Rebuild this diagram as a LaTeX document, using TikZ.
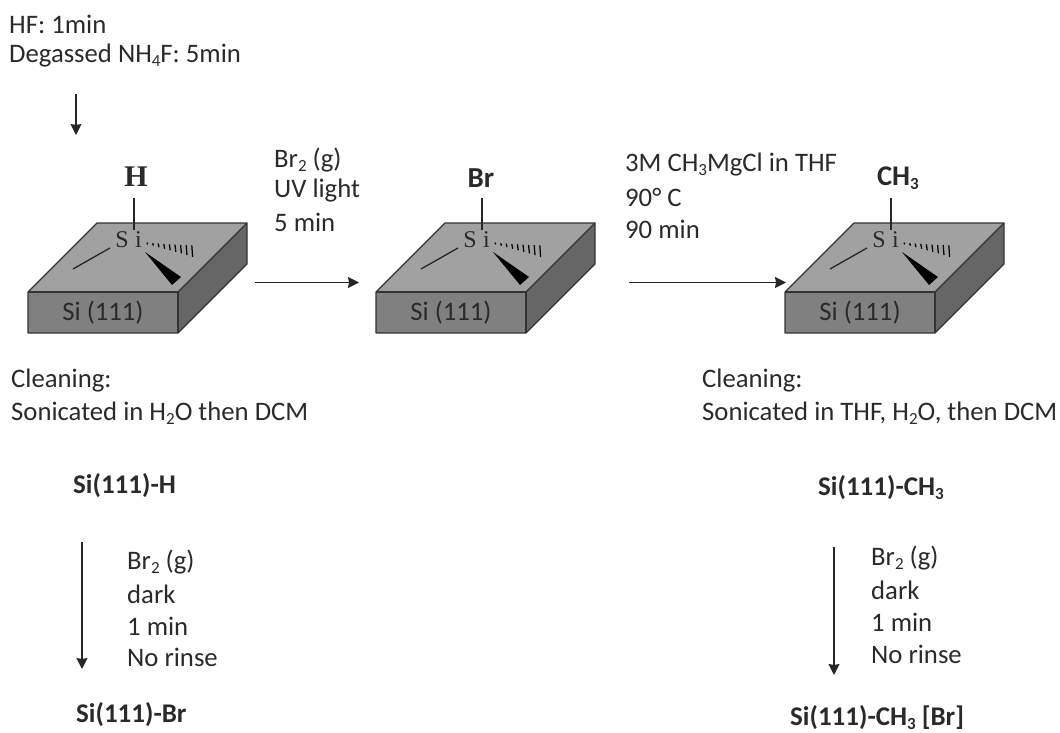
\documentclass[tikz,border=0pt]{standalone}
\usepackage{fontspec}
\setmainfont{Carlito}
\newfontfamily\lmr{Liberation Serif}
\usetikzlibrary{arrows.meta}
\newcommand{\subs}[1]{\raisebox{-0.28ex}{\fontsize{17}{20}\selectfont #1}}
\definecolor{inkc}{HTML}{2A2A2A}
\tikzset{
  x=1pt,y=-1pt,
  lbl/.style={anchor=west,inner sep=0pt,text=inkc,font=\fontsize{26.7}{30}\selectfont,align=left},
  ttl/.style={anchor=west,inner sep=0pt,text=inkc,font=\fontsize{27}{30}\selectfont\bfseries},
  arr/.style={-{Stealth[length=11pt,width=11pt,inset=1pt]},line width=1.4pt,black!85},
  edgeline/.style={draw=black!80,line width=1.2pt,line join=round},
  bond/.style={black!85,line width=1.3pt},
  sifont/.style={inner sep=0pt,text=inkc,font=\lmr\fontsize{24}{26}\selectfont},
}
\newcommand{\siblock}[2]{%
 \begin{scope}[shift={(#1,0)}]
  \fill[fill=black!37] (0,292) -- (69,223) -- (219,223) -- (150,292) -- cycle;
  \fill[fill=black!50] (0,292) rectangle (150,333);
  \fill[fill=black!60] (150,292) -- (219,223) -- (219,264) -- (150,333) -- cycle;
  \draw[edgeline] (0,292) -- (69,223) -- (219,223) -- (219,264) -- (150,333) -- (0,333) -- cycle;
  \draw[edgeline] (0,292) -- (150,292) -- (150,333);
  \draw[edgeline] (150,292) -- (219,223);
  \node[sifont] (#2S) at (94,240) {S};
  \node[sifont] (#2I) at (110.5,240) {i};
  \node[inner sep=0pt,text=inkc,font=\fontsize{26.7}{30}\selectfont] (#2sub) at (75,313) {Si (111)};
  \coordinate (#2top) at (106,198);
  \draw[bond] (#2top) -- ++(0,32);
  \draw[bond] (82,248) -- (45,269);
  \fill[black] (117,252) -- (153,277) -- (144,285) -- cycle;
  \foreach \t/\h in {0/0.8,1/1.2,2/1.8,3/2.4,4/3,5/3.6,6/4.2,7/5,8/5.8}{
    \draw[black,line width=1.25pt] ({119+\t*5.6},{243.5+\t*0.95-\h}) -- ({119.8+\t*5.6},{243.5+\t*0.95+\h});
  }
 \end{scope}}
\begin{document}
\begin{tikzpicture}
\useasboundingbox (0,0) rectangle (1060,733);
\node[lbl] (t1) at (9,24) {HF: 1min};
\node[lbl] (t2) at (9,56) {Degassed NH\subs{4}F: 5min};
\coordinate (a0s) at (76,94);
\coordinate (a0e) at (76,135);
\draw[arr] (a0s) -- (a0e);

\siblock{28}{A}
\siblock{376}{B}
\siblock{785}{C}

\node[font=\lmr\bfseries\fontsize{30}{32}\selectfont,inner sep=0pt,text=inkc] (hh) at (136,177) {H};
\node[font=\fontsize{29}{30}\selectfont\bfseries,inner sep=0pt,text=inkc] (br) at (481,178) {Br};
\node[font=\fontsize{28.5}{30}\selectfont\bfseries,inner sep=0pt,text=inkc] (ch) at (898,178) {CH\subs{3}};

\node[lbl] (r1a) at (274,160) {Br\subs{2} (g)};
\node[lbl] (r1b) at (274,191) {UV light};
\node[lbl] (r1c) at (274,222) {5 min};
\coordinate (a1s) at (255,282.5);
\coordinate (a1e) at (359,282.5);
\draw[arr] (a1s) -- (a1e);

\node[lbl] (r2a) at (625,165) {3M CH\subs{3}MgCl in THF};
\node[lbl] (r2b) at (625,197) {90° C};
\node[lbl] (r2c) at (625,229) {90 min};
\coordinate (a2s) at (629,282.5);
\coordinate (a2e) at (786,282.5);
\draw[arr] (a2s) -- (a2e);

\node[lbl] (c1a) at (11,381) {Cleaning:};
\node[lbl] (c1b) at (11,413) {Sonicated in H\subs{2}O then DCM};
\node[lbl] (c2a) at (702,381) {Cleaning:};
\node[lbl] (c2b) at (702,413) {Sonicated in THF, H\subs{2}O, then DCM};

\node[ttl] (s1) at (73,486) {Si(111)-H};
\node[ttl] (s2) at (818,488) {Si(111)-CH\subs{3}};
\coordinate (a3s) at (82,542);
\coordinate (a3e) at (82,669);
\draw[arr] (a3s) -- (a3e);
\coordinate (a4s) at (834,547);
\coordinate (a4e) at (834,675);
\draw[arr] (a4s) -- (a4e);

\node[lbl] (d1a) at (127,562) {Br\subs{2} (g)};
\node[lbl] (d1b) at (127,594) {dark};
\node[lbl] (d1c) at (127,626) {1 min};
\node[lbl] (d1d) at (127,657) {No rinse};
\node[lbl] (d2a) at (871,558) {Br\subs{2} (g)};
\node[lbl] (d2b) at (871,590) {dark};
\node[lbl] (d2c) at (871,622) {1 min};
\node[lbl] (d2d) at (871,654) {No rinse};

\node[ttl] (s3) at (76,715) {Si(111)-Br};
\node[ttl] (s4) at (790,718) {Si(111)-CH\subs{3} [Br]};
\end{tikzpicture}
\end{document}
